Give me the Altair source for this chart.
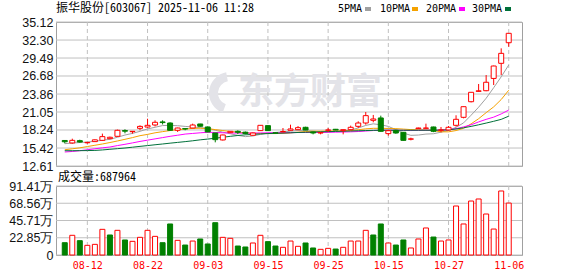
import altair as alt
import pandas as pd

# ---------------- data ----------------
dates = ["08-07", "08-08", "08-11", "08-12", "08-13", "08-14", "08-15", "08-18", "08-19", "08-20",
         "08-21", "08-22", "08-25", "08-26", "08-27", "08-28", "08-29",
         "09-01", "09-02", "09-03", "09-04", "09-05", "09-08", "09-09", "09-10", "09-11", "09-12",
         "09-15", "09-16", "09-17", "09-18", "09-19", "09-22", "09-23", "09-24", "09-25", "09-26",
         "09-29", "09-30",
         "10-09", "10-10", "10-13", "10-14", "10-15", "10-16", "10-17", "10-20", "10-21", "10-22",
         "10-23", "10-24", "10-27", "10-28", "10-29", "10-30", "10-31",
         "11-03", "11-04", "11-05", "11-06"]

open_ = [16.60, 16.21, 16.57, 16.24, 16.42, 16.62, 16.88, 17.25, 18.15, 17.97,
         18.50, 18.70, 19.02, 19.50, 19.33, 18.19, 18.45, 18.55, 19.18, 18.71,
         17.77, 16.68, 17.82, 18.03, 17.90, 17.41, 18.14, 18.92, 17.80, 17.95,
         18.19, 18.29, 18.66, 17.93, 17.77, 18.20, 18.35, 18.14, 18.29, 18.81,
         19.33, 19.75, 20.12, 17.67, 18.19, 17.88, 16.80, 18.45, 18.50, 18.71,
         18.20, 18.24, 18.97, 20.22, 22.66, 24.28, 24.38, 26.30, 28.66, 31.88]
high = [16.65, 16.88, 16.72, 16.36, 16.75, 17.67, 17.20, 18.30, 18.35, 18.05,
        18.97, 20.00, 19.75, 19.75, 19.44, 18.60, 18.50, 19.23, 19.20, 18.80,
        17.80, 17.50, 18.05, 18.19, 18.00, 17.85, 18.97, 18.95, 17.85, 18.55,
        19.07, 18.85, 18.75, 17.98, 17.93, 18.55, 18.40, 18.30, 18.92, 19.60,
        21.05, 20.59, 20.48, 18.15, 18.25, 17.90, 17.04, 18.60, 19.23, 18.76,
        18.71, 18.86, 20.54, 21.90, 24.15, 25.43, 26.83, 28.30, 31.00, 33.35]
low = [16.15, 16.10, 16.25, 16.10, 16.38, 16.55, 16.80, 17.20, 17.72, 17.67,
       18.20, 18.60, 18.80, 19.10, 18.10, 17.93, 18.20, 18.50, 18.75, 17.88,
       16.31, 16.60, 17.75, 17.60, 17.55, 17.35, 18.10, 18.10, 17.70, 17.90,
       18.15, 18.25, 18.20, 17.56, 17.56, 17.93, 18.20, 17.56, 18.20, 18.55,
       19.07, 19.44, 18.00, 17.35, 17.65, 16.60, 16.62, 18.40, 18.50, 17.90,
       17.88, 18.20, 18.76, 20.06, 22.55, 24.25, 24.30, 25.27, 26.83, 31.25]
close = [16.40, 16.62, 16.36, 16.30, 16.70, 17.20, 17.10, 18.19, 18.05, 18.03,
         18.80, 18.97, 19.44, 19.40, 18.19, 18.55, 18.40, 19.02, 18.82, 17.93,
         16.73, 17.46, 18.03, 17.88, 17.70, 17.77, 18.97, 18.14, 17.75, 18.00,
         18.40, 18.60, 18.24, 17.77, 17.82, 18.24, 18.24, 18.29, 18.66, 19.33,
         20.48, 19.96, 18.03, 18.13, 17.77, 16.62, 16.85, 18.55, 18.55, 18.03,
         18.25, 18.66, 19.91, 21.88, 24.13, 24.36, 25.70, 28.24, 30.22, 33.35]

# volume in 万 and the colour of each volume bar as drawn
volume = [16.3, 26.1, 19.0, 12.8, 14.1, 34.0, 26.5, 32.7, 19.9, 18.1,
          23.4, 32.7, 24.7, 16.3, 41.1, 19.4, 13.2, 18.5, 21.2, 14.6,
          42.8, 23.4, 22.1, 11.9, 10.6, 15.9, 26.1, 17.7, 11.9, 10.2,
          18.5, 11.5, 15.9, 9.3, 7.5, 8.8, 7.9, 10.2, 18.5, 18.5,
          32.7, 26.5, 41.1, 15.9, 13.2, 19.9, 9.3, 21.2, 35.8, 23.8,
          18.5, 19.9, 64.9, 41.1, 71.5, 74.2, 54.3, 34.4, 84.8, 68.8]
vol_dir = ["down", "up", "down", "up", "up", "up", "down", "up", "down", "up",
           "up", "up", "up", "down", "down", "up", "down", "up", "down", "down",
           "down", "up", "up", "down", "down", "up", "up", "down", "down", "up",
           "up", "up", "down", "down", "up", "up", "down", "up", "up", "up",
           "up", "down", "down", "up", "down", "down", "up", "up", "up", "down",
           "up", "up", "up", "up", "up", "up", "up", "up", "up", "up"]

ma5 = [16.10, 16.20, 16.28, 16.35, 16.48, 16.64, 16.78, 17.10, 17.45, 17.71,
       18.03, 18.41, 18.66, 18.93, 18.96, 18.91, 18.80, 18.71, 18.60, 18.50,
       18.20, 17.90, 17.65, 17.40, 17.20, 17.30, 17.55, 17.75, 17.85, 17.95,
       18.05, 18.15, 18.15, 18.05, 17.95, 17.95, 18.00, 18.05, 18.25, 18.55,
       18.95, 19.20, 19.05, 18.80, 18.30, 17.75, 17.40, 17.45, 17.60, 17.65,
       17.90, 18.20, 18.65, 19.35, 20.55, 21.80, 23.20, 24.85, 26.55, 28.40]
ma10 = [15.15, 15.30, 15.45, 15.65, 15.85, 16.05, 16.28, 16.52, 16.78, 17.05,
        17.35, 17.55, 17.80, 17.98, 18.15, 18.28, 18.40, 18.48, 18.52, 18.45,
        18.30, 18.15, 18.00, 17.90, 17.80, 17.72, 17.70, 17.68, 17.68, 17.72,
        17.80, 17.90, 18.00, 18.05, 18.05, 18.08, 18.10, 18.10, 18.15, 18.28,
        18.42, 18.50, 18.50, 18.48, 18.45, 18.38, 18.30, 18.25, 18.24, 18.15,
        17.95, 17.95, 18.15, 18.50, 19.20, 20.00, 20.95, 21.85, 23.00, 24.45]
ma20 = [14.80, 14.88, 15.00, 15.15, 15.30, 15.45, 15.58, 15.80, 16.00, 16.22,
        16.45, 16.65, 16.85, 17.05, 17.25, 17.42, 17.60, 17.70, 17.80, 17.88,
        17.85, 17.80, 17.78, 17.75, 17.75, 17.75, 17.78, 17.80, 17.80, 17.80,
        17.82, 17.85, 17.85, 17.85, 17.85, 17.88, 17.90, 17.92, 17.95, 18.00,
        18.08, 18.15, 18.20, 18.20, 18.20, 18.18, 18.15, 18.18, 18.20, 18.20,
        18.22, 18.28, 18.45, 18.72, 19.05, 19.50, 19.90, 20.25, 20.75, 21.35]
ma30 = [15.00, 15.00, 15.01, 15.02, 15.05, 15.12, 15.22, 15.32, 15.42, 15.55,
        15.68, 15.80, 15.93, 16.05, 16.18, 16.30, 16.42, 16.55, 16.70, 16.82,
        16.95, 17.10, 17.25, 17.38, 17.48, 17.55, 17.62, 17.68, 17.72, 17.76,
        17.80, 17.85, 17.88, 17.92, 17.95, 17.98, 18.02, 18.05, 18.08, 18.12,
        18.15, 18.18, 18.20, 18.20, 18.20, 18.20, 18.20, 18.20, 18.20, 18.20,
        18.22, 18.26, 18.40, 18.58, 18.80, 19.05, 19.32, 19.60, 19.90, 20.40]

price_ticks = [12.61, 15.42, 18.24, 21.05, 23.86, 26.68, 29.49, 32.30, 35.12]
vol_ticks = [0, 22.85, 45.71, 68.56, 91.41]
tick_dates = ["08-12", "08-22", "09-03", "09-15", "09-25", "10-15", "10-27", "11-06"]

title_text = "振华股份[603067] 2025-11-06 11:28"
vol_text = "成交量:687964"
watermark = "东方财富"
ma_names = ["5PMA", "10PMA", "20PMA", "30PMA"]
ma_fields = ["ma5", "ma10", "ma20", "ma30"]
ma_colors = ["#a0a0a0", "#f5a200", "#ff00ff", "#00703a"]

# ---------------- styling ----------------
RED = "#ff0000"
GREEN = "#008000"
WM_GREY = "#e3e3e8"
GRID = "#c0c0c0"
W, H_MAIN, H_VOL = 466, 144, 69
MONO_CJK = "Noto Sans Mono CJK SC, DejaVu Sans Mono, Noto Sans CJK SC, monospace"

df = pd.DataFrame({"i": list(range(len(dates))), "date": dates, "open": open_, "high": high,
                   "low": low, "close": close, "vol": volume, "vdir": vol_dir,
                   "ma5": ma5, "ma10": ma10, "ma20": ma20, "ma30": ma30})
df["dir"] = ["up" if c >= o else "down" for o, c in zip(open_, close)]
tick_idx = [int(dates.index(d)) for d in tick_dates]
ticks_df = pd.DataFrame({"i": tick_idx})
pgrid_df = pd.DataFrame({"p": price_ticks})
vgrid_df = pd.DataFrame({"v": vol_ticks})

xscale = alt.Scale(domain=[-0.5, 60.1], nice=False, zero=False)
pscale = alt.Scale(domain=[price_ticks[0], price_ticks[-1]], nice=False, zero=False)
vscale = alt.Scale(domain=[0, vol_ticks[-1]], nice=False, zero=False)
stroke_scale = alt.Scale(domain=["up", "down"], range=[RED, GREEN])
fill_scale = alt.Scale(domain=["up", "down"], range=["#ffffff", GREEN])

x_main = alt.X("i:Q", scale=xscale, axis=None, title=None)

label_arr = "[" + ",".join("'%s'" % d for d in dates) + "]"
x_vol_axis = alt.Axis(values=tick_idx, labelExpr=label_arr + "[datum.value]",
                      grid=False, ticks=False, domain=False, labelColor=RED,
                      labelFont="DejaVu Sans Mono", labelFontSize=10, labelPadding=5,
                      labelFlush=False, labelOverlap=False)
x_vol = alt.X("i:Q", scale=xscale, axis=x_vol_axis, title=None)

price_axis = alt.Axis(values=price_ticks, format=".2f", minExtent=55, maxExtent=55,
                      labelPadding=3, labelOverlap=False, labelFlush=False, grid=False)
vol_axis = alt.Axis(values=vol_ticks, minExtent=55, maxExtent=55, labelPadding=3,
                    labelOverlap=False, labelFlush=False, grid=False,
                    labelExpr="datum.value == 0 ? '0' : format(datum.value, '.2f') + '万'")

# ---- main (price) panel ----
hgrid_main = alt.Chart(pgrid_df).mark_rule(color=GRID, strokeWidth=1).encode(
    y=alt.Y("p:Q", scale=pscale, title=None, axis=price_axis),
    x=alt.value(0), x2=alt.value(W))

vgrid_main = alt.Chart(ticks_df).mark_rule(color=GRID, strokeDash=[4, 3]).encode(
    x=x_main, y=alt.value(0), y2=alt.value(H_MAIN))

wm_logo = alt.Chart(pd.DataFrame({"t": [watermark]})).mark_arc(
    color=WM_GREY, innerRadius=12, outerRadius=21, theta=3.5, theta2=6.1).encode(
    x=alt.value(174), y=alt.value(71))

wm = alt.Chart(pd.DataFrame({"t": [watermark]})).mark_text(
    font="Noto Sans CJK SC", fontSize=36, fontWeight="bold", color=WM_GREY,
    align="center", baseline="middle").encode(text="t:N", x=alt.value(254), y=alt.value(71))

lines = alt.Chart(df).transform_fold(ma_fields, as_=["ma", "val"]).mark_line(
    strokeWidth=1).encode(
    x=x_main,
    y=alt.Y("val:Q", scale=pscale, title=None, axis=price_axis),
    color=alt.Color("ma:N", scale=alt.Scale(domain=ma_fields, range=ma_colors), legend=None))

wicks = alt.Chart(df).mark_rule(strokeWidth=1).encode(
    x=x_main, y=alt.Y("low:Q", scale=pscale, title=None, axis=price_axis), y2="high:Q",
    stroke=alt.Stroke("dir:N", scale=stroke_scale, legend=None))

bodies = alt.Chart(df).mark_bar(size=5, strokeWidth=1).encode(
    x=x_main, y=alt.Y("open:Q", scale=pscale, title=None, axis=price_axis), y2="close:Q",
    fill=alt.Fill("dir:N", scale=fill_scale, legend=None),
    stroke=alt.Stroke("dir:N", scale=stroke_scale, legend=None))

title_mark = alt.Chart(pd.DataFrame({"t": [title_text]})).mark_text(
    font=MONO_CJK, fontSize=12, color="#000000", align="left", baseline="middle").encode(
    text="t:N", x=alt.value(0), y=alt.value(-14))

legend_layers = []
leg_text_x = [282, 324, 370, 416]
leg_sw_x = [309, 356, 403, 449]
for name, col, tx, sx in zip(ma_names, ma_colors, leg_text_x, leg_sw_x):
    legend_layers.append(alt.Chart(pd.DataFrame({"t": [name]})).mark_text(
        font="DejaVu Sans Mono", fontSize=10, color="#000000", align="left",
        baseline="middle").encode(text="t:N", x=alt.value(tx), y=alt.value(-13)))
    legend_layers.append(alt.Chart(pd.DataFrame({"t": [name]})).mark_rect(color=col).encode(
        x=alt.value(sx), x2=alt.value(sx + 6), y=alt.value(-15), y2=alt.value(-11)))

main = alt.layer(hgrid_main, vgrid_main, wm_logo, wm, lines, wicks, bodies, title_mark,
                 *legend_layers).properties(width=W, height=H_MAIN)

# ---- volume panel ----
hgrid_vol = alt.Chart(vgrid_df).mark_rule(color=GRID, strokeWidth=1).encode(
    y=alt.Y("v:Q", scale=vscale, title=None, axis=vol_axis),
    x=alt.value(0), x2=alt.value(W))

vgrid_vol = alt.Chart(ticks_df).mark_rule(color=GRID, strokeDash=[4, 3]).encode(
    x=x_vol, y=alt.value(0), y2=alt.value(H_VOL))

vbars = alt.Chart(df).mark_bar(size=5, strokeWidth=1).encode(
    x=x_vol,
    y=alt.Y("vol:Q", scale=vscale, title=None, axis=vol_axis),
    fill=alt.Fill("vdir:N", scale=fill_scale, legend=None),
    stroke=alt.Stroke("vdir:N", scale=stroke_scale, legend=None))

vol_label = alt.Chart(pd.DataFrame({"t": [vol_text]})).mark_text(
    font=MONO_CJK, fontSize=12, color="#000000", align="left", baseline="middle").encode(
    text="t:N", x=alt.value(2), y=alt.value(-9))

vol = alt.layer(hgrid_vol, vgrid_vol, vbars, vol_label).properties(width=W, height=H_VOL)

chart = alt.vconcat(main, vol, spacing=20, bounds="flush").properties(
    padding={"left": 0, "top": 1, "right": 0, "bottom": 0},
    background="#ffffff",
).configure_view(stroke="#a0a0a0", strokeWidth=1).configure_axis(
    grid=False, domain=False, ticks=False, labelOverlap=False,
    labelFont="Liberation Sans", labelFontSize=12.5, labelColor="#111111")

chart.save("out.html", embed_options={"renderer": "svg", "actions": False})
